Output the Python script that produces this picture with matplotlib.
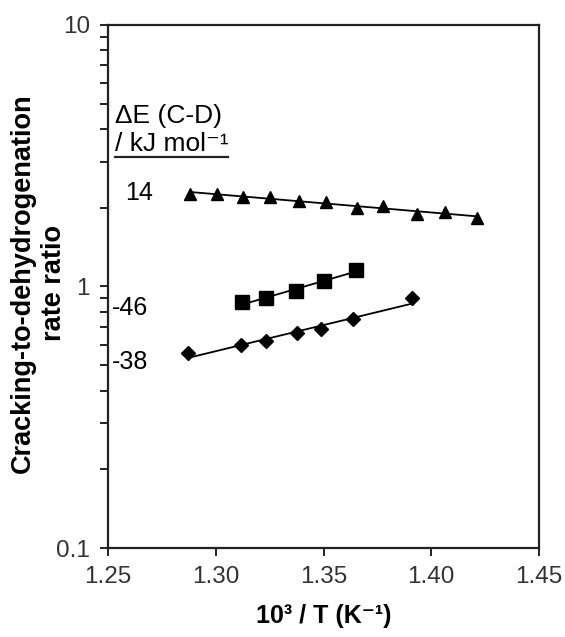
import numpy as np
import matplotlib
matplotlib.use("Agg")
from matplotlib import pyplot as plt
from matplotlib.ticker import LogLocator, NullFormatter, FixedLocator

plt.rcParams['font.family'] = ['Liberation Sans', 'DejaVu Sans']

# 10^3/T (1/K) and cracking-to-dehydrogenation rate ratio for each series
x_tri = [1.2881, 1.3006, 1.3126, 1.3252, 1.3386, 1.3512, 1.3656, 1.3776, 1.3934, 1.4064, 1.4212]
y_tri = [2.26, 2.26, 2.19, 2.19, 2.13, 2.11, 2.00, 2.04, 1.90, 1.93, 1.82]

x_sq = [1.3122, 1.3233, 1.3372, 1.3502, 1.3651]
y_sq = [0.869, 0.90, 0.957, 1.045, 1.16]

x_dia = [1.2871, 1.3117, 1.3233, 1.3377, 1.3488, 1.3637, 1.3911]
y_dia = [0.555, 0.596, 0.617, 0.662, 0.685, 0.748, 0.90]

series_labels = ["14", "-46", "-38"]
x_ticks = [1.25, 1.30, 1.35, 1.40, 1.45]

fig = plt.figure(figsize=(5.65, 6.37), dpi=100)
ax = fig.add_axes([0.1912, 0.1397, 0.7628, 0.8211])


def trend(xs, ys):
    # exponential trendline: straight line on the log axis
    k, b = np.polyfit(xs, np.log(ys), 1)
    xx = np.array([min(xs), max(xs)])
    return xx, np.exp(k * xx + b)


for xs, ys, mk, ms in [(x_tri, y_tri, '^', 9), (x_sq, y_sq, 's', 9.5), (x_dia, y_dia, 'D', 7)]:
    ax.plot(xs, ys, linestyle='none', marker=mk, markersize=ms, color='black')
    tx, ty = trend(xs, ys)
    ax.plot(tx, ty, color='black', linewidth=1.3)

ax.set_yscale('log')
ax.set_xlim(1.25, 1.45)
ax.set_ylim(0.1, 10)

ax.xaxis.set_major_locator(FixedLocator(x_ticks))
ax.set_xticklabels([f"{v:.2f}" for v in x_ticks])
ax.yaxis.set_major_locator(FixedLocator([0.1, 1, 10]))
ax.set_yticklabels(["0.1", "1", "10"])
ax.get_yticklabels()[1].set_color('#1a1a80')
ax.yaxis.set_minor_locator(LogLocator(base=10, subs=np.arange(2, 10)))
ax.yaxis.set_minor_formatter(NullFormatter())

ax.tick_params(axis='both', which='major', direction='out', length=6, width=1.4,
               labelsize=17.5, colors='#222222', labelcolor='#333333')
ax.tick_params(axis='y', which='minor', direction='out', length=6, width=1.4, colors='#222222')
ax.tick_params(axis='x', pad=7)
ax.tick_params(axis='y', pad=7)
for sp in ax.spines.values():
    sp.set_linewidth(1.6)
    sp.set_color('#222222')

ax.set_xlabel("10³ / T (K⁻¹)", fontsize=18, fontweight='bold')
ax.xaxis.set_label_coords(0.5, -0.108)
fig.text(0.068, 0.556, "Cracking-to-dehydrogenation\nrate ratio", fontsize=19.5,
         fontweight='bold', rotation=90, ha='center', va='center', linespacing=1.3)

# series annotations
ax.text(1.2532, 4.23, "ΔE (C-D)", fontsize=19, va='baseline')
ax.text(1.2532, 3.30, "/ kJ mol⁻¹", fontsize=19, va='baseline')
ax.plot([1.2532, 1.3057], [3.13, 3.13], color='#222222', linewidth=1.6)
ax.text(1.2579, 2.28, series_labels[0], fontsize=18, va='center')
ax.text(1.2519, 0.824, series_labels[1], fontsize=18, va='center')
ax.text(1.2519, 0.513, series_labels[2], fontsize=18, va='center')

fig.savefig("out.png", dpi=100)
